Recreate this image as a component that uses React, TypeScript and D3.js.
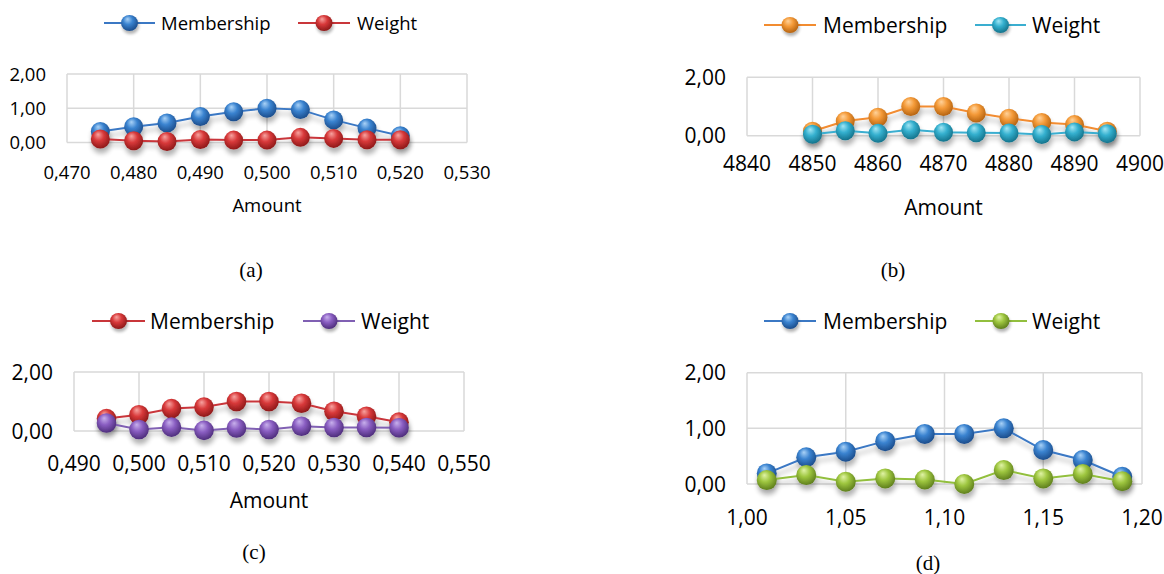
import React from "react";
import * as d3 from "d3";

// panel (a)
const amountA = [0.475, 0.48, 0.485, 0.49, 0.495, 0.5, 0.505, 0.51, 0.515, 0.52];
const membershipA = [0.32, 0.46, 0.57, 0.76, 0.9, 1.0, 0.96, 0.66, 0.42, 0.2];
const weightA = [0.1, 0.05, 0.03, 0.09, 0.07, 0.07, 0.15, 0.12, 0.08, 0.08];
const xTicksA = [0.47, 0.48, 0.49, 0.5, 0.51, 0.52, 0.53];

// panel (b)
const amountB = [4850, 4855, 4860, 4865, 4870, 4875, 4880, 4885, 4890, 4895];
const membershipB = [0.15, 0.5, 0.63, 1.0, 1.0, 0.78, 0.6, 0.45, 0.38, 0.15];
const weightB = [0.05, 0.17, 0.08, 0.2, 0.12, 0.1, 0.09, 0.04, 0.13, 0.07];
const xTicksB = [4840, 4850, 4860, 4870, 4880, 4890, 4900];

// panel (c)
const amountC = [0.495, 0.5, 0.505, 0.51, 0.515, 0.52, 0.525, 0.53, 0.535, 0.54];
const membershipC = [0.42, 0.55, 0.76, 0.81, 1.0, 1.0, 0.94, 0.67, 0.5, 0.3];
const weightC = [0.27, 0.05, 0.13, 0.02, 0.1, 0.05, 0.16, 0.12, 0.12, 0.11];
const xTicksC = [0.49, 0.5, 0.51, 0.52, 0.53, 0.54, 0.55];

// panel (d)
const amountD = [1.01, 1.03, 1.05, 1.07, 1.09, 1.11, 1.13, 1.15, 1.17, 1.19];
const membershipD = [0.19, 0.48, 0.58, 0.77, 0.9, 0.9, 1.0, 0.61, 0.43, 0.13];
const weightD = [0.07, 0.16, 0.04, 0.1, 0.08, 0.0, 0.25, 0.1, 0.18, 0.05];
const xTicksD = [1.0, 1.05, 1.1, 1.15, 1.2];

const yTicksFull = [0, 1, 2];
const yTicksTwo = [0, 2];
const seriesNames = ["Membership", "Weight"];

const palette: Record<string, { light: string; main: string; dark: string; line: string }> = {
  blue: { light: "#a9d2f7", main: "#3a83d0", dark: "#1a4a88", line: "#3b78c4" },
  red: { light: "#f7a3a0", main: "#d8393a", dark: "#8a1717", line: "#c9363a" },
  orange: { light: "#ffd29a", main: "#f49a38", dark: "#b2600f", line: "#f28c30" },
  teal: { light: "#a2e6f4", main: "#34b0cf", dark: "#137088", line: "#3aaed0" },
  purple: { light: "#c8b0ec", main: "#8a5ec2", dark: "#4b2b78", line: "#8060b3" },
  green: { light: "#e0f3a6", main: "#9ec63f", dark: "#5b7b1b", line: "#92bf3e" },
};

const comma = (n: number) => (d: number) => d.toFixed(n).replace(".", ",");

const panels = [
  {
    id: "a", xs: amountA, mem: membershipA, wt: weightA, xTicks: xTicksA, yTicks: yTicksFull,
    fmt: comma(3), colors: ["blue", "red"],
    left: 67, right: 467, top: 74, bottom: 142.5, fs: 18.5, r: 9.5,
    legendY: 23, legend: [[104, 155, 161], [298, 350, 357]],
    labelY: 172, titleY: 205, caption: "(a)", capX: 251, capY: 270,
  },
  {
    id: "b", xs: amountB, mem: membershipB, wt: weightB, xTicks: xTicksB, yTicks: yTicksTwo,
    fmt: (d: number) => String(d), colors: ["orange", "teal"],
    left: 747, right: 1140, top: 77.3, bottom: 135.7, fs: 21, r: 9.5,
    legendY: 25, legend: [[764, 816, 823], [975, 1026, 1032]],
    labelY: 163, titleY: 207, caption: "(b)", capX: 893, capY: 270,
  },
  {
    id: "c", xs: amountC, mem: membershipC, wt: weightC, xTicks: xTicksC, yTicks: yTicksTwo,
    fmt: comma(3), colors: ["red", "purple"],
    left: 74, right: 464, top: 372, bottom: 431, fs: 21, r: 9.8,
    legendY: 321, legend: [[92, 145, 150], [303, 355, 361]],
    labelY: 463, titleY: 500, caption: "(c)", capX: 254, capY: 552,
  },
  {
    id: "d", xs: amountD, mem: membershipD, wt: weightD, xTicks: xTicksD, yTicks: yTicksFull,
    fmt: comma(2), colors: ["blue", "green"],
    left: 747, right: 1142, top: 372.7, bottom: 484, fs: 21, r: 10,
    legendY: 321, legend: [[764, 816, 823], [975, 1027, 1032]],
    labelY: 517, titleY: null, caption: "(d)", capX: 928, capY: 563,
  },
];

const font = "'Open Sans', 'DejaVu Sans', sans-serif";

function Panel({ p }: { p: any }) {
  const x = d3.scaleLinear().domain([p.xTicks[0], p.xTicks[p.xTicks.length - 1]]).range([p.left, p.right]);
  const y = d3.scaleLinear().domain([0, 2]).range([p.bottom, p.top]);
  const line = d3.line<[number, number]>().x((d) => x(d[0])).y((d) => y(d[1]));
  const series = [p.mem, p.wt].map((vals: number[]) => p.xs.map((v: number, i: number) => [v, vals[i]] as [number, number]));

  return (
    <g>
      {/* grid */}
      {p.yTicks.map((t: number) => (
        <line key={"gy" + t} x1={p.left} x2={p.right} y1={y(t)} y2={y(t)} stroke="#d9d9d9" strokeWidth={1.5} />
      ))}
      {p.xTicks.map((t: number) => (
        <line key={"gx" + t} x1={x(t)} x2={x(t)} y1={p.top} y2={p.bottom} stroke="#d9d9d9" strokeWidth={1.5} />
      ))}
      {/* y labels */}
      {p.yTicks.map((t: number) => (
        <text key={"ly" + t} x={p.left - 21} y={y(t)} dy="0.36em" textAnchor="end" fontSize={p.fs} fontFamily={font} fill="#000">
          {comma(2)(t)}
        </text>
      ))}
      {/* x labels */}
      {p.xTicks.map((t: number) => (
        <text key={"lx" + t} x={x(t)} y={p.labelY} dy="0.36em" textAnchor="middle" fontSize={p.fs} fontFamily={font} fill="#000">
          {p.fmt(t)}
        </text>
      ))}
      {p.titleY != null && (
        <text x={(p.left + p.right) / 2} y={p.titleY} dy="0.36em" textAnchor="middle" fontSize={p.fs} fontFamily={font} fill="#000">
          Amount
        </text>
      )}
      {/* series: weight drawn last so it sits on top */}
      {series.map((pts: [number, number][], si: number) => {
        const c = palette[p.colors[si]];
        return (
          <g key={"s" + si} filter="url(#shadow)">
            <path d={line(pts) || ""} fill="none" stroke={c.line} strokeWidth={2} />
            {pts.map((d, i) => (
              <circle key={i} cx={x(d[0])} cy={y(d[1])} r={p.r} fill={`url(#sph-${p.colors[si]})`} />
            ))}
          </g>
        );
      })}
      {/* legend */}
      {p.legend.map((lg: number[], si: number) => {
        const c = palette[p.colors[si]];
        return (
          <g key={"lg" + si}>
            <line x1={lg[0]} x2={lg[1]} y1={p.legendY} y2={p.legendY} stroke={c.line} strokeWidth={2} />
            <ellipse cx={(lg[0] + lg[1]) / 2} cy={p.legendY} rx={8.5} ry={8} fill={`url(#sph-${p.colors[si]})`} filter="url(#shadowSmall)" />
            <text x={lg[2]} y={p.legendY} dy="0.36em" fontSize={p.fs} fontFamily={font} fill="#000">
              {seriesNames[si]}
            </text>
          </g>
        );
      })}
      <text x={p.capX} y={p.capY} dy="0.33em" textAnchor="middle" fontSize={21} fontFamily="'Liberation Serif', 'Times New Roman', serif" fill="#000">
        {p.caption}
      </text>
    </g>
  );
}

export default function App() {
  return (
    <svg width={1164} height={574} style={{ position: "absolute", left: 0, top: 0, display: "block", background: "#fff" }}>
      <defs>
        {Object.keys(palette).map((k) => (
          <radialGradient key={k} id={`sph-${k}`} cx="45%" cy="40%" r="62%" fx="38%" fy="25%">
            <stop offset="0%" stopColor={palette[k].light} />
            <stop offset="45%" stopColor={palette[k].main} />
            <stop offset="100%" stopColor={palette[k].dark} />
          </radialGradient>
        ))}
        <filter id="shadow" x="-10%" y="-30%" width="120%" height="180%">
          <feGaussianBlur in="SourceAlpha" stdDeviation="2.5" />
          <feOffset dx="1" dy="5" result="off" />
          <feComponentTransfer>
            <feFuncA type="linear" slope="0.3" />
          </feComponentTransfer>
          <feMerge>
            <feMergeNode />
            <feMergeNode in="SourceGraphic" />
          </feMerge>
        </filter>
        <filter id="shadowSmall" x="-50%" y="-50%" width="200%" height="200%">
          <feGaussianBlur in="SourceAlpha" stdDeviation="1.5" />
          <feOffset dx="1" dy="3" />
          <feComponentTransfer>
            <feFuncA type="linear" slope="0.3" />
          </feComponentTransfer>
          <feMerge>
            <feMergeNode />
            <feMergeNode in="SourceGraphic" />
          </feMerge>
        </filter>
      </defs>
      <rect width={1164} height={574} fill="#fff" />
      {panels.map((p) => (
        <Panel key={p.id} p={p} />
      ))}
    </svg>
  );
}
